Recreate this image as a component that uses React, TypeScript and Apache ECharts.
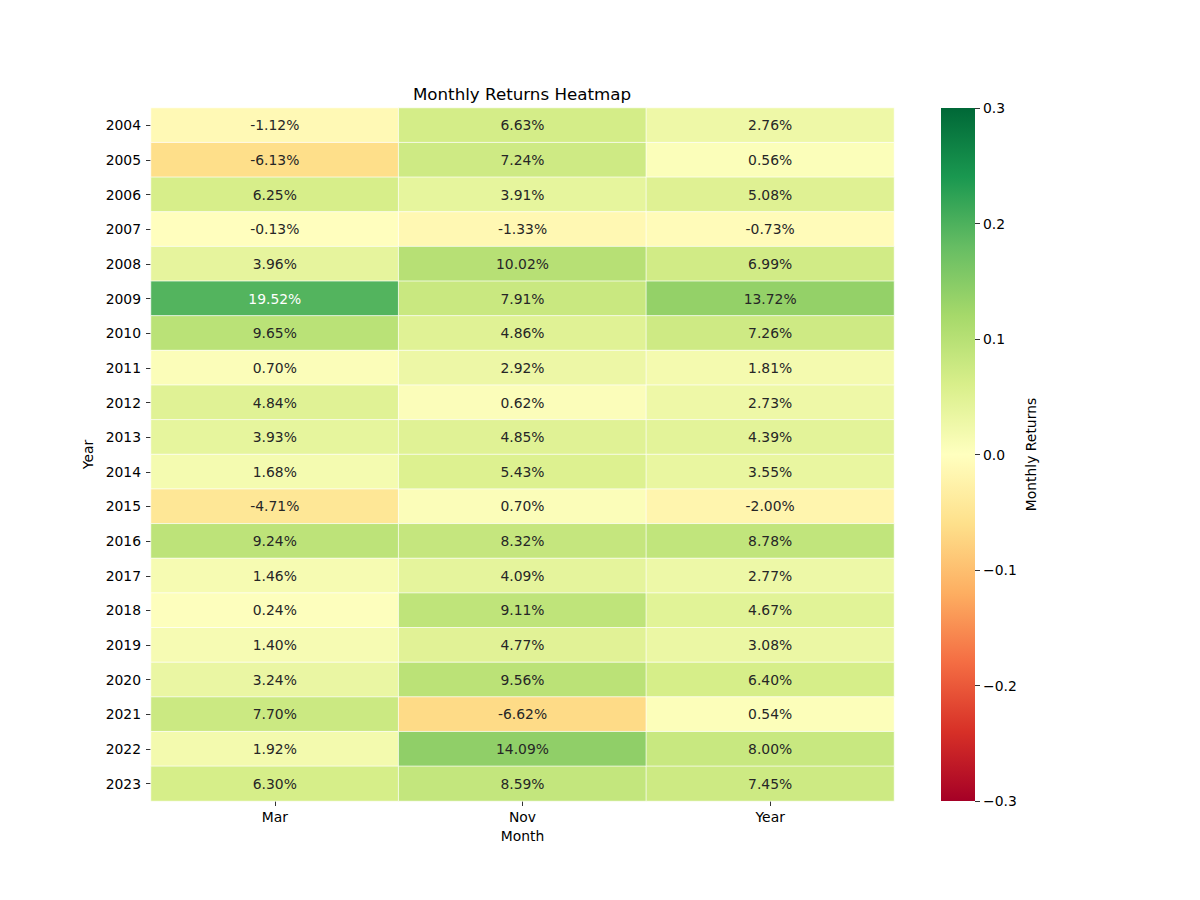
import React, { useEffect, useRef } from "react";
import * as echarts from "echarts";

const months = ["Mar", "Nov", "Year"];
const years = [
  "2004", "2005", "2006", "2007", "2008", "2009", "2010", "2011", "2012", "2013",
  "2014", "2015", "2016", "2017", "2018", "2019", "2020", "2021", "2022", "2023",
];
const marReturns = [-1.12, -6.13, 6.25, -0.13, 3.96, 19.52, 9.65, 0.7, 4.84, 3.93, 1.68, -4.71, 9.24, 1.46, 0.24, 1.4, 3.24, 7.7, 1.92, 6.3];
const novReturns = [6.63, 7.24, 3.91, -1.33, 10.02, 7.91, 4.86, 2.92, 0.62, 4.85, 5.43, 0.7, 8.32, 4.09, 9.11, 4.77, 9.56, -6.62, 14.09, 8.59];
const yearReturns = [2.76, 0.56, 5.08, -0.73, 6.99, 13.72, 7.26, 1.81, 2.73, 4.39, 3.55, -2.0, 8.78, 2.77, 4.67, 3.08, 6.4, 0.54, 8.0, 7.45];

const RdYlGn = [
  "#a50026", "#d73027", "#f46d43", "#fdae61", "#fee08b", "#ffffbf",
  "#d9ef8b", "#a6d96a", "#66bd63", "#1a9850", "#006837",
];

const FONT = "DejaVu Sans";

export default function App() {
  const ref = useRef<HTMLDivElement>(null);
  useEffect(() => {
    if (!ref.current) return;
    const chart = echarts.init(ref.current, null, { renderer: "svg" });
    const columns = [marReturns, novReturns, yearReturns];
    const data: any[] = [];
    columns.forEach((col, ci) => {
      col.forEach((v, ri) => {
        data.push({
          value: [ci, ri, v],
          label: { color: Math.abs(v) >= 16 ? "#ffffff" : "#262626" },
        });
      });
    });
    const topToBottom = RdYlGn.slice().reverse();
    const gradientStops = topToBottom.map((c, i) => ({
      offset: i / (topToBottom.length - 1),
      color: c,
    }));
    const fmtTick = (v: number) => {
      const r = Math.round(v * 10) / 10;
      if (Math.abs(r) < 1e-9) return "0.0";
      return r < 0 ? "\u2212" + Math.abs(r).toFixed(1) : r.toFixed(1);
    };
    chart.setOption({
      animation: false,
      backgroundColor: "#ffffff",
      textStyle: { fontFamily: FONT },
      title: {
        text: "Monthly Returns Heatmap",
        left: 517,
        top: 80,
        textAlign: "center",
        textStyle: { fontFamily: FONT, fontSize: 16.7, fontWeight: "normal", color: "#000" },
      },
      grid: [
        { left: 151, top: 108, width: 743, height: 693 },
        { left: 941, top: 108, width: 34, height: 693 },
      ],
      xAxis: [
        {
          type: "category",
          gridIndex: 0,
          data: months,
          axisLine: { show: false },
          axisTick: { show: true, alignWithLabel: true, length: 5, lineStyle: { color: "#000", width: 0.8 } },
          axisLabel: { color: "#000", fontSize: 13.9, fontFamily: FONT, margin: 9 },
          splitLine: { show: false },
          name: "Month",
          nameLocation: "middle",
          nameGap: 28,
          nameTextStyle: { color: "#000", fontSize: 13.9, fontFamily: FONT, verticalAlign: "top" },
        },
        {
          type: "category",
          gridIndex: 1,
          data: ["cb"],
          show: false,
        },
      ],
      yAxis: [
        {
          type: "category",
          gridIndex: 0,
          data: years,
          inverse: true,
          axisLine: { show: false },
          axisTick: { show: true, alignWithLabel: true, length: 5, lineStyle: { color: "#000", width: 0.8 } },
          axisLabel: { color: "#000", fontSize: 13.9, fontFamily: FONT, margin: 10 },
          splitLine: { show: false },
          name: "Year",
          nameLocation: "middle",
          nameGap: 53,
          nameRotate: 90,
          nameTextStyle: { color: "#000", fontSize: 13.9, fontFamily: FONT },
        },
        {
          type: "value",
          gridIndex: 1,
          position: "right",
          min: -0.3,
          max: 0.3,
          interval: 0.1,
          axisLine: { show: false },
          axisTick: { show: true, length: 5, lineStyle: { color: "#000", width: 0.8 } },
          axisLabel: { color: "#000", fontSize: 13.9, fontFamily: FONT, margin: 8, formatter: fmtTick },
          splitLine: { show: false },
          name: "Monthly Returns",
          nameLocation: "middle",
          nameGap: 49,
          nameRotate: 90,
          nameTextStyle: { color: "#000", fontSize: 13.9, fontFamily: FONT },
        },
      ],
      visualMap: {
        show: false,
        type: "continuous",
        min: -30,
        max: 30,
        dimension: 2,
        seriesIndex: 0,
        inRange: { color: RdYlGn },
      },
      graphic: [
        {
          type: "rect",
          shape: { x: 941, y: 108, width: 34, height: 693 },
          style: {
            fill: new echarts.graphic.LinearGradient(0, 0, 0, 1, gradientStops),
          },
          z: 0,
        },
      ],
      series: [
        {
          type: "heatmap",
          xAxisIndex: 0,
          yAxisIndex: 0,
          data,
          itemStyle: { borderColor: "#ffffff", borderWidth: 0.7 },
          label: {
            show: true,
            fontSize: 13.9,
            fontFamily: FONT,
            formatter: (p: any) => p.value[2].toFixed(2) + "%",
          },
          emphasis: { disabled: true },
        },
      ],
    });
    return () => chart.dispose();
  }, []);
  return (
    <div
      ref={ref}
      style={{ position: "absolute", left: 0, top: 0, width: 1200, height: 900 }}
    />
  );
}
